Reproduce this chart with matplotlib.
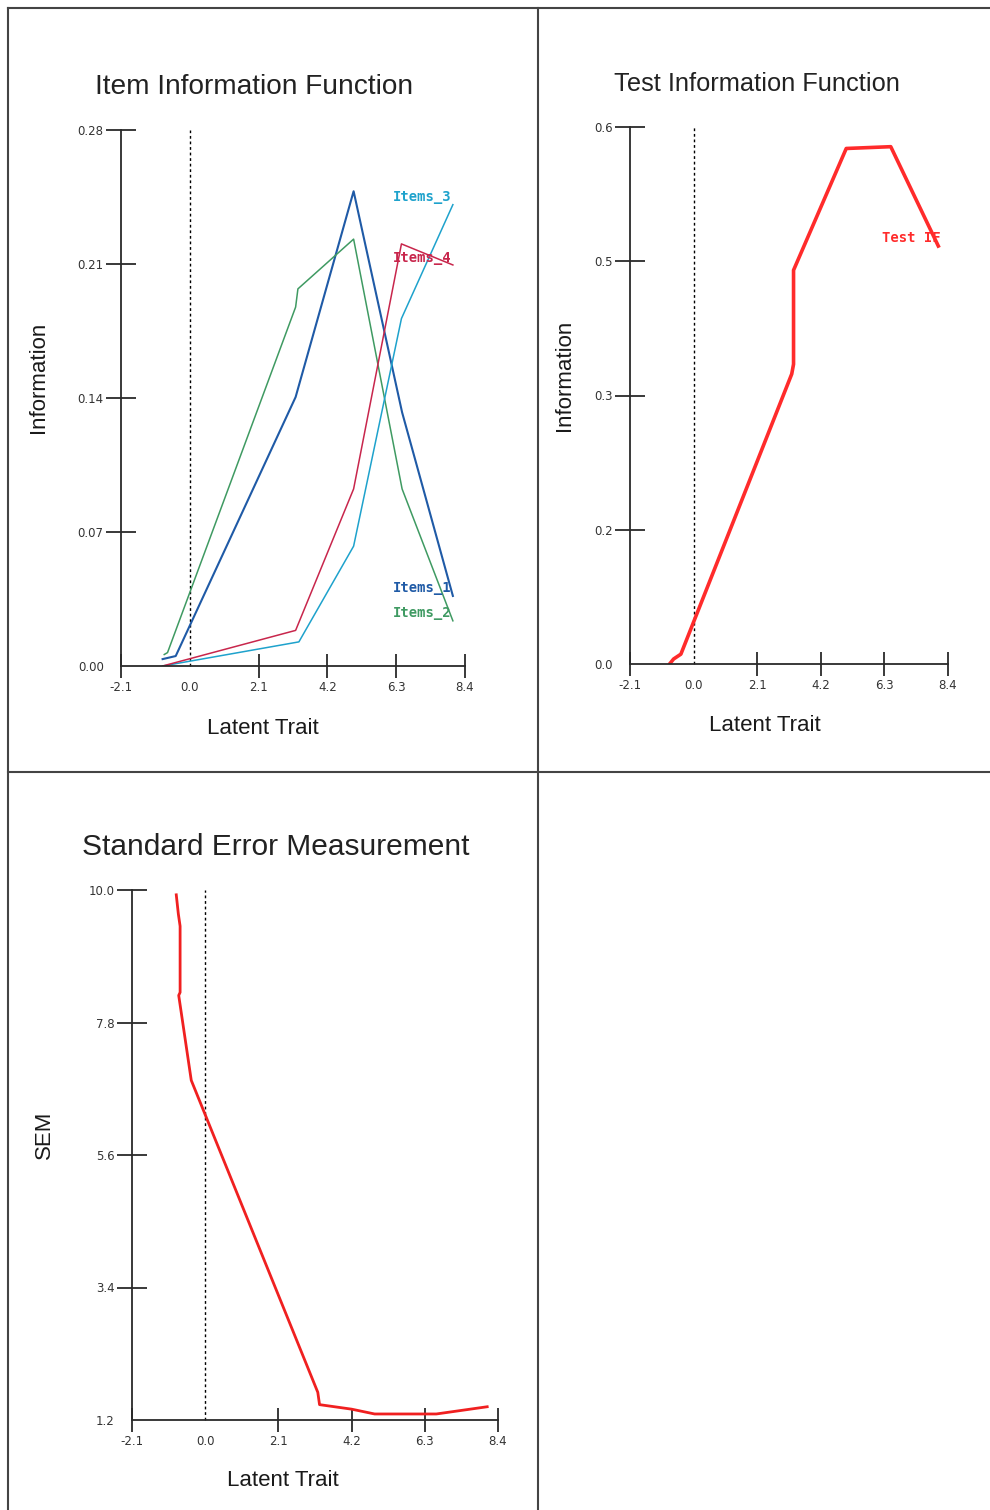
from matplotlib import pyplot as plt
from matplotlib.lines import Line2D

# shared x axis
x_ticks = [-2.1, 0.0, 2.1, 4.2, 6.3, 8.4]
x_labels = ["-2.1", "0.0", "2.1", "4.2", "6.3", "8.4"]

# Item information curves
items1_x = [-0.83, -0.43, 3.23, 5.0, 6.48, 8.03]
items1_y = [0.0036, 0.0052, 0.1405, 0.248, 0.1325, 0.0366]
items2_x = [-0.78, -0.68, 3.23, 3.30, 5.0, 6.48, 8.03]
items2_y = [0.006, 0.007, 0.1875, 0.197, 0.223, 0.0925, 0.0236]
items3_x = [-0.83, 3.33, 5.0, 6.46, 8.03]
items3_y = [0.0, 0.0126, 0.0626, 0.1815, 0.241]
items4_x = [-0.83, 3.23, 5.0, 6.46, 8.03]
items4_y = [0.0, 0.0186, 0.0925, 0.2205, 0.2095]
item_yticks = [0.0, 0.07, 0.14, 0.21, 0.28]
item_ylabels = ["0.00", "0.07", "0.14", "0.21", "0.28"]

# Test information
tif_x = [-0.77, -0.66, -0.42, 3.24, 3.30, 3.30, 5.04, 6.51, 8.08]
tif_y = [0.001, 0.0056, 0.011, 0.324, 0.335, 0.44, 0.576, 0.578, 0.467]
tif_yticks = [0.0, 0.15, 0.3, 0.45, 0.6]
tif_ylabels = ["0.0", "0.2", "0.3", "0.5", "0.6"]

# Standard error of measurement
sem_x = [-0.83, -0.77, -0.72, -0.72, -0.76, -0.40, 3.23, 3.28, 4.2, 4.86, 6.63, 8.09]
sem_y = [9.92, 9.60, 9.40, 8.30, 8.25, 6.84, 1.66, 1.455, 1.38, 1.30, 1.30, 1.42]
sem_yticks = [1.2, 3.4, 5.6, 7.8, 10.0]
sem_ylabels = ["1.2", "3.4", "5.6", "7.8", "10.0"]

axis_col = "#2a2a2a"
title_font = "Liberation Sans"

fig = plt.figure(figsize=(9.9, 15.1), dpi=100)


def setup_axes(rect, yticks, ylabels, ylim):
    ax = fig.add_axes(rect)
    ax.set_facecolor("none")
    for s in ["top", "right"]:
        ax.spines[s].set_visible(False)
    for s in ["left", "bottom"]:
        ax.spines[s].set_color(axis_col)
        ax.spines[s].set_linewidth(1.3)
    ax.set_xlim(-2.1, 8.4)
    ax.set_ylim(*ylim)
    ax.set_xticks(x_ticks)
    ax.set_xticklabels(x_labels)
    ax.set_yticks(yticks)
    ax.set_yticklabels(ylabels)
    ax.tick_params(axis="x", direction="inout", length=17, width=1.3, color=axis_col,
                   labelsize=8.5, labelcolor="#333333", pad=2)
    ax.tick_params(axis="y", direction="inout", length=21, width=1.3, color=axis_col,
                   labelsize=8.5, labelcolor="#333333", pad=2)
    ax.xaxis.get_major_ticks()[1].tick1line.set_visible(False)
    ax.yaxis.get_major_ticks()[0].tick1line.set_visible(False)
    ax.plot([0, 0], ylim, color="black", lw=1, ls=(0, (2, 2)), clip_on=False)
    return ax


# Item information function
ax1 = setup_axes([121 / 990, 844 / 1510, 344 / 990, 536 / 1510], item_yticks, item_ylabels, (0, 0.28))
ax1.plot(items1_x, items1_y, color="#1f5aa6", lw=1.5)
ax1.plot(items2_x, items2_y, color="#3f9a62", lw=1.1)
ax1.plot(items3_x, items3_y, color="#1ea2cc", lw=1.1)
ax1.plot(items4_x, items4_y, color="#c8264c", lw=1.1)
lab = dict(family="DejaVu Sans Mono", fontweight="bold", fontsize=10, va="center", ha="left")
ax1.text(6.2, 0.245, "Items_3", color="#1ea2cc", **lab)
ax1.text(6.2, 0.213, "Items_4", color="#c8264c", **lab)
ax1.text(6.2, 0.0408, "Items_1", color="#1f5aa6", **lab)
ax1.text(6.2, 0.0277, "Items_2", color="#3f9a62", **lab)

# Test information function
ax2 = setup_axes([630 / 990, 846 / 1510, 318 / 990, 537 / 1510], tif_yticks, tif_ylabels, (0, 0.6))
ax2.plot(tif_x, tif_y, color="#ff2b2b", lw=2.6)
ax2.text(6.22, 0.476, "Test IF", color="#ff2b2b", **lab)

# SEM
ax3 = setup_axes([132 / 990, 90 / 1510, 366 / 990, 530 / 1510], sem_yticks, sem_ylabels, (1.2, 10.0))
ax3.plot(sem_x, sem_y, color="#f02020", lw=2.0)

# titles and axis labels
fig.text(254 / 990, 1 - 87 / 1510, "Item Information Function", family=title_font, fontsize=20.2,
         ha="center", va="center", color="#222222")
fig.text(757 / 990, 1 - 84 / 1510, "Test Information Function", family=title_font, fontsize=18.3,
         ha="center", va="center", color="#222222")
fig.text(276 / 990, 1 - 847 / 1510, "Standard Error Measurement", family=title_font, fontsize=21.5,
         ha="center", va="center", color="#222222")
for x, y in [(263, 728), (765, 726), (283, 1481)]:
    fig.text(x / 990, 1 - y / 1510, "Latent Trait", family=title_font, fontsize=16,
             ha="center", va="center", color="#1a1a1a")
for x, y, t in [(38, 377, "Information"), (565, 375, "Information"), (44, 1135, "SEM")]:
    fig.text(x / 990, 1 - y / 1510, t, family=title_font, fontsize=16, rotation=90,
             ha="center", va="center", color="#1a1a1a")

# panel borders
border = dict(color="#444444", lw=1.5, transform=fig.transFigure)
fig.add_artist(Line2D([8 / 990, 1], [1 - 8 / 1510, 1 - 8 / 1510], **border))
fig.add_artist(Line2D([8 / 990, 8 / 990], [0, 1 - 8 / 1510], **border))
fig.add_artist(Line2D([538 / 990, 538 / 990], [0, 1 - 8 / 1510], **border))
fig.add_artist(Line2D([8 / 990, 1], [1 - 772 / 1510, 1 - 772 / 1510], **border))

fig.savefig("out.png", dpi=100)
